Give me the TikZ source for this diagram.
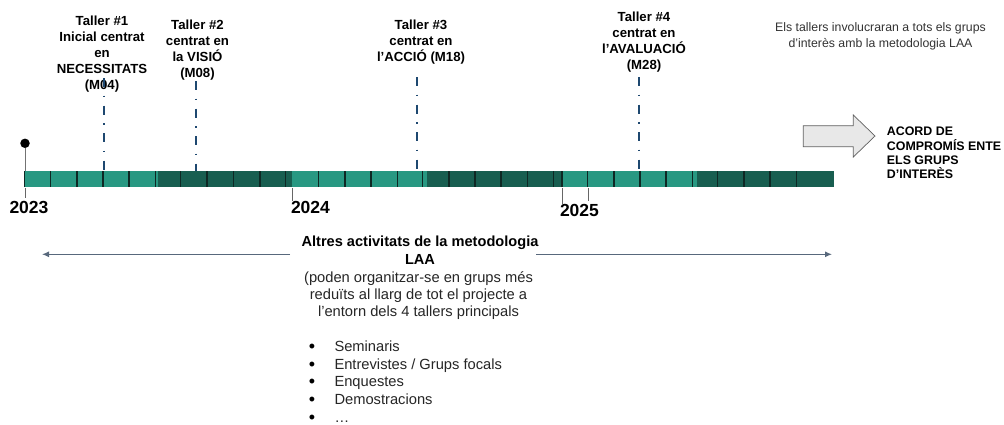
\documentclass[tikz,border=0pt]{standalone}
\usepackage{fontspec}
\setmainfont{Liberation Sans}
\usetikzlibrary{arrows.meta}

\definecolor{tealA}{RGB}{40,152,130}
\definecolor{tealB}{RGB}{24,94,80}
\definecolor{tickdark}{RGB}{14,40,36}
\definecolor{dashblue}{RGB}{30,72,112}
\definecolor{arrowslate}{RGB}{88,104,124}
\definecolor{blockgray}{RGB}{232,232,232}

\begin{document}
\begin{tikzpicture}[x=1pt,y=-1pt,
	taller/.style={font=\bfseries\fontsize{13.2}{16}\selectfont, align=center, inner sep=0pt, anchor=north},
	tallerline/.style={dashblue, line width=2pt, dash pattern=on 9pt off 8.5pt on 1.5pt off 8.5pt},
	year/.style={font=\bfseries\fontsize{17.5}{20}\selectfont, inner sep=0pt, anchor=base west},
	bartick/.style={tickdark, line width=1.4pt},
	yeartick/.style={black!60, line width=0.8pt},
	actarrow/.style={arrowslate, line width=1.2pt, -{Latex[length=7pt,width=6pt]}}]
	\useasboundingbox[fill=white] (0,0) rectangle (1004,424);

	% timeline bar
	\coordinate (barNW) at (24,171);
	\coordinate (barSE) at (834,186.5);
	\fill[tealA] (24,171) rectangle (157.5,186.5);
	\fill[tealB] (157.5,171) rectangle (292,186.5);
	\fill[tealA] (292,171) rectangle (427,186.5);
	\fill[tealB] (427,171) rectangle (562,186.5);
	\fill[tealA] (562,171) rectangle (697,186.5);
	\fill[tealB] (697,171) rectangle (834,186.5);
	\foreach \x in {24.5,50.7,77,103,129,155.7,180.7,207,233.7,260,285.7,318.3,345,371,397.3,422.7,449,475,501,527.3,553.3,562,587.7,614,640,666,692.3,717.7,744,770,796.7}
		\draw[bartick] (\x,171) -- (\x,186.5);

	% start pin
	\node[circle, fill=black, inner sep=0pt, minimum size=9.5pt] (pin) at (25,143.3) {};
	\draw[black!55, line width=0.8pt] (pin) -- (pin |- barNW);

	% years
	\draw[yeartick] (25,188) -- (25,198.3);
	\draw[yeartick] (292.7,188) -- (292.7,200.7);
	\draw[yeartick] (562,188) -- (562,204);
	\draw[yeartick] (588.7,188) -- (588.7,200.7);
	\node[year] (y2023) at (9.3,213.3) {2023};
	\node[year] (y2024) at (290.8,213.3) {2024};
	\node[year] (y2025) at (559.8,216) {2025};

	% workshops
	\node[taller] (t1) at (102,16) {Taller \#1\\Inicial centrat\\en\\NECESSITATS\\(M04)};
	\node[taller] (t2) at (197.5,19.5) {Taller \#2\\centrat en\\la VISIÓ\\(M08)};
	\node[taller] (t3) at (421,19.5) {Taller \#3\\centrat en\\l’ACCIÓ (M18)};
	\node[taller] (t4) at (644,12) {Taller \#4\\centrat en\\l’AVALUACIÓ\\(M28)};
	\coordinate (w1) at (104,78);
	\coordinate (w2) at (195.5,81);
	\coordinate (w3) at (417,77);
	\coordinate (w4) at (639,77);
	\foreach \w in {w1,w2,w3,w4}
		\draw[tallerline] (\w) -- (\w |- barNW);

	% outcome
	\draw[gray!75!black, line width=0.7pt, fill=blockgray]
		(803.3,125.7) -- (853.3,125.7) -- (853.3,115) -- (875,136) -- (853.3,157) -- (853.3,146.7) -- (803.3,146.7) -- cycle;
	\node[font=\bfseries\fontsize{12.4}{14.3}\selectfont, align=left, inner sep=0pt, anchor=north west] (acord) at (886.7,127)
		{ACORD DE\\COMPROMÍS ENTE\\ELS GRUPS\\D’INTERÈS};
	\node[font=\fontsize{12.3}{16}\selectfont, text=black!80, align=center, inner sep=0pt, anchor=north] (nota) at (880.5,22)
		{Els tallers involucraran a tots els grups\\d’interès amb la metodologia LAA};

	% other activities
	\node[font=\bfseries\fontsize{14.6}{18.3}\selectfont, align=center, inner sep=0pt, anchor=north] (altres) at (420,235.5)
		{Altres activitats de la metodologia\\LAA};
	\node[font=\fontsize{14.7}{17}\selectfont, text=black!85, align=center, inner sep=0pt, anchor=north] (desc) at (418.5,271)
		{(poden organitzar-se en grups més\\reduïts al llarg de tot el projecte a\\l’entorn dels 4 tallers principals};
	\coordinate (actL0) at (290,254.3);
	\coordinate (actL) at (42,254.3);
	\coordinate (actR0) at (536,254.3);
	\coordinate (actR) at (832,254.3);
	\draw[actarrow] (actL0) -- (actL);
	\draw[actarrow] (actR0) -- (actR);
	\foreach \entry [count=\i] in {Seminaris,Entrevistes / Grups focals,Enquestes,Demostracions,…} {
		\node[font=\fontsize{14.7}{17}\selectfont, text=black!85, inner sep=0pt, anchor=base west] (entry\i) at (334.3,351.3+17.7*\i-17.7) {\entry};
		\node[font=\fontsize{18}{17}\selectfont, inner sep=0pt, anchor=base] (dot\i) at (312,352.3+17.7*\i-17.7) {•};
	}
\end{tikzpicture}
\end{document}
